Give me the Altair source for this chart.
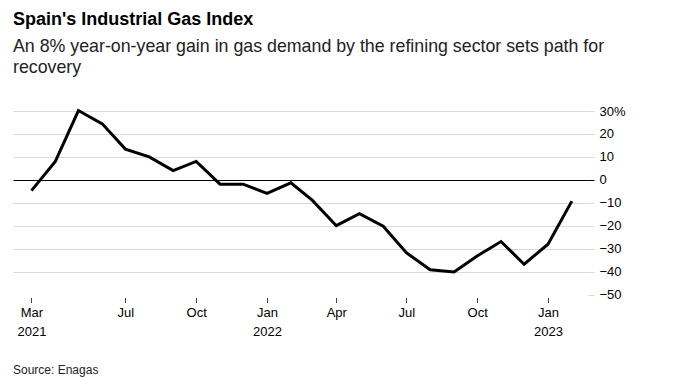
import altair as alt
import pandas as pd

months = ["2021-03", "2021-04", "2021-05", "2021-06", "2021-07", "2021-08", "2021-09",
          "2021-10", "2021-11", "2021-12", "2022-01", "2022-02", "2022-03", "2022-04",
          "2022-05", "2022-06", "2022-07", "2022-08", "2022-09", "2022-10", "2022-11",
          "2022-12", "2023-01", "2023-02"]
values = [-4.7, 8.0, 30.2, 24.4, 13.4, 10.0, 4.0, 8.0, -1.9, -1.9, -5.9, -1.3, -9.0,
          -20.0, -14.8, -20.2, -31.8, -39.2, -40.2, -33.2, -26.9, -36.8, -28.1, -9.3]
y_ticks = [-50, -40, -30, -20, -10, 0, 10, 20, 30]
x_ticks = [(2021, 3), (2021, 7), (2021, 10), (2022, 1), (2022, 4), (2022, 7), (2022, 10), (2023, 1)]

title = "Spain's Industrial Gas Index"
subtitle = ["An 8% year-on-year gain in gas demand by the refining sector sets path for",
            "recovery"]
source = "Source: Enagas"

df = pd.DataFrame({"date": [m + "-01T00:00:00" for m in months], "value": values})

FONT = "Liberation Sans"

x_enc = alt.X(
    "date:T",
    scale=alt.Scale(domain=[alt.DateTime(year=2021, month=2, date=5),
                            alt.DateTime(year=2023, month=2, date=22)]),
    axis=alt.Axis(
        title=None, domain=False, grid=False,
        values=[alt.DateTime(year=y, month=m, date=1) for y, m in x_ticks],
        labelExpr="(month(datum.value)==0 || (year(datum.value)==2021 && month(datum.value)==2)) ? [timeFormat(datum.value, '%b'), timeFormat(datum.value, '%Y')] : timeFormat(datum.value, '%b')",
        tickSize=5, tickColor="#444", offset=3, labelPadding=4,
        labelFontSize=13, labelColor="#000", labelFont=FONT, labelLineHeight=19,
    ),
)

y_enc = alt.Y(
    "value:Q",
    scale=alt.Scale(domain=[-50, 30], nice=False, zero=False),
    axis=alt.Axis(
        title=None, orient="right", domain=False,
        values=y_ticks,
        labelExpr="datum.value == 30 ? '30%' : datum.label",
        grid=True,
        gridColor=alt.condition("datum.value === 0", alt.value("#000000"), alt.value("#d9d9d9")),
        gridOpacity=alt.condition("datum.value === -50", alt.value(0), alt.value(1)),
        tickSize=6,
        tickColor=alt.condition("datum.value === 0", alt.value("#000000"), alt.value("#d9d9d9")),
        labelPadding=5, labelFontSize=13, labelColor="#000", labelFont=FONT,
    ),
)

line = alt.Chart(df).mark_line(color="#000000", strokeWidth=3).encode(x=x_enc, y=y_enc)

src = alt.Chart(pd.DataFrame({"t": [source]})).mark_text(
    align="left", baseline="middle", fontSize=12, font=FONT, color="#222"
).encode(text="t:N", x=alt.value(0), y=alt.value(259))

chart = alt.layer(line, src).properties(
    width=575, height=183.5,
    padding={"left": 5, "top": 2, "right": 5, "bottom": 5},
    title=alt.TitleParams(
        text=title, subtitle=subtitle, anchor="start", frame="group",
        font=FONT, fontSize=18, fontWeight="bold", color="#000",
        subtitleFont=FONT, subtitleFontSize=17.8, subtitleColor="#222",
        subtitleLineHeight=21.5, subtitlePadding=9, offset=27.5,
    ),
).configure_view(stroke=None)

chart.save("out.html", embed_options={"renderer": "svg", "actions": False})
